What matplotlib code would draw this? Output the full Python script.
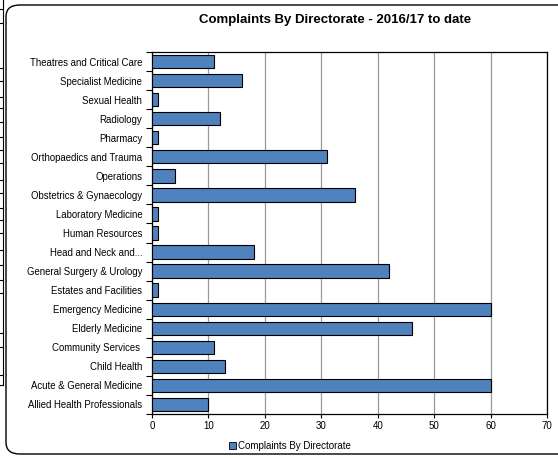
import numpy as np
import matplotlib.pyplot as plt
from matplotlib.patches import FancyBboxPatch, Patch
from matplotlib.lines import Line2D

categories = ["Allied Health Professionals", "Acute & General Medicine", "Child Health",
              "Community Services ", "Elderly Medicine", "Emergency Medicine",
              "Estates and Facilities", "General Surgery & Urology", "Head and Neck and...",
              "Human Resources", "Laboratory Medicine", "Obstetrics & Gynaecology",
              "Operations", "Orthopaedics and Trauma", "Pharmacy", "Radiology",
              "Sexual Health", "Specialist Medicine", "Theatres and Critical Care"]
values = [10, 60, 13, 11, 46, 60, 1, 42, 18, 1, 1, 36, 4, 31, 1, 12, 1, 16, 11]
xticks = [0, 10, 20, 30, 40, 50, 60, 70]

W, H = 558, 458
fig = plt.figure(figsize=(W / 100, H / 100), dpi=100)

# rounded chart frame
frame = FancyBboxPatch((6 / W, 4 / H), 600 / W, 449 / H,
                       boxstyle="round,pad=0,rounding_size=0.025",
                       transform=fig.transFigure, facecolor="none",
                       edgecolor="black", linewidth=1.0, zorder=-1)
fig.patches.append(frame)

# remnant of neighbouring object on the left edge
fig.add_artist(Line2D([3 / W, 3 / W], [1, 1 - 385 / H], transform=fig.transFigure,
                      color="black", lw=0.8))
for yy in [9, 23, 68, 81, 97, 108, 122, 137, 150, 163, 180, 193, 208, 220, 233,
           250, 265, 280, 293, 333, 347, 375, 385]:
    fig.add_artist(Line2D([0, 3 / W], [1 - yy / H] * 2, transform=fig.transFigure,
                          color="black", lw=0.8))

ax = fig.add_axes([152 / W, 1 - 414 / H, (547 - 152) / W, (414 - 52) / H])
ax.set_zorder(2)
y = np.arange(len(categories))
ax.barh(y, values, height=0.7, color="#4F81BD", edgecolor="black", linewidth=0.8, zorder=3)

ax.set_xlim(0, 70)
ax.set_ylim(-0.5, len(categories) - 0.5)
ax.set_xticks(xticks)
ax.set_xticklabels([str(t) for t in xticks], fontsize=7, family="Liberation Sans")
ax.set_yticks(y)
ax.set_yticklabels(categories, fontsize=6.9, family="Liberation Sans")
ax.tick_params(axis="y", length=0, pad=7)
ax.set_yticks(np.arange(-0.5, len(categories), 1), minor=True)
ax.tick_params(axis="y", which="minor", length=4, direction="out", width=0.8)
ax.tick_params(axis="x", length=3, direction="out", width=0.8, pad=2)
ax.grid(axis="x", color="#999999", linewidth=0.9, zorder=0)
for s in ax.spines.values():
    s.set_linewidth(0.9)

fig.text(335 / W, 1 - 20 / H, "Complaints By Directorate - 2016/17 to date",
         ha="center", va="center", fontsize=9.5, fontweight="bold", family="Liberation Sans")

leg = fig.legend(handles=[Patch(facecolor="#4F81BD", edgecolor="black", linewidth=0.6,
                                label="Complaints By Directorate")],
                 loc="center", bbox_to_anchor=(290 / W, 1 - 446 / H), frameon=False,
                 prop={"family": "Liberation Sans", "size": 7},
                 handlelength=0.7, handleheight=0.7, handletextpad=0.2)

fig.savefig("out.png", dpi=100)
